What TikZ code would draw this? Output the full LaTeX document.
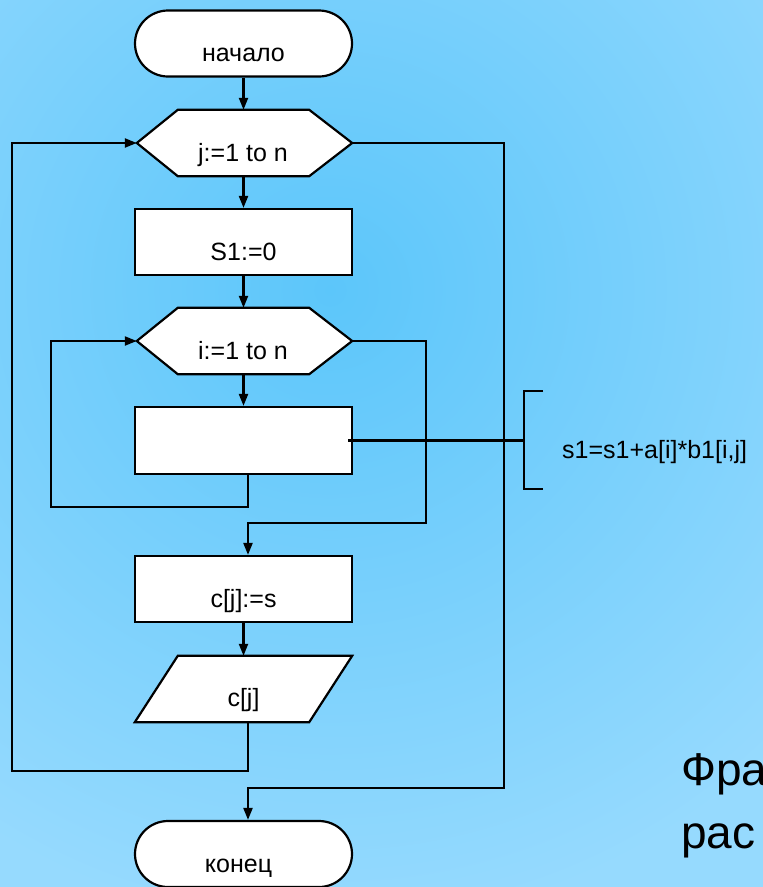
\documentclass[tikz,border=0pt]{standalone}
\usepackage{fontspec}
\setmainfont{Liberation Sans}
\usetikzlibrary{arrows.meta}
\definecolor{bgin}{RGB}{92,198,250}
\definecolor{bgout}{RGB}{150,218,254}
\pgfdeclareradialshading{bgshade}{\pgfpoint{0bp}{0bp}}{color(0bp)=(bgin); color(25bp)=(bgout); color(50bp)=(bgout)}
\tikzset{
 line/.style={line width=2.2pt, draw=black},
 arr/.style={line, -{Triangle[length=12pt,width=9pt]}},
 term/.style={line, fill=white, rectangle, rounded corners=33pt, minimum width=217pt, minimum height=66pt, inner sep=0pt},
 proc/.style={line, fill=white, rectangle, minimum width=217pt, minimum height=66pt, inner sep=0pt},
 frame/.style={rectangle, minimum width=215pt, minimum height=66pt, inner sep=0pt},
 shapefill/.style={line, fill=white, line join=miter},
 txt/.style={font=\fontsize{25}{30}\selectfont, anchor=base, inner sep=0pt},
 bigtxt/.style={font=\fontsize{46}{55}\selectfont, anchor=base west, inner sep=0pt},
}
\begin{document}
\begin{tikzpicture}[x=1pt,y=-1pt]
\path[use as bounding box] (0,0) rectangle (763,887);
\clip (0,0) rectangle (763,887);
% background
\fill[bgout] (0,0) rectangle (763,887);
\shade[shading=bgshade] (330,290) circle (640pt);

% shapes
\node[term] (start) at (243.5,43.5) {};
\node[frame] (hj) at (244.5,143) {};
\draw[shapefill] ([xshift=41pt]hj.north west) -- ([xshift=-43pt]hj.north east) -- (hj.east) -- ([xshift=-43pt]hj.south east) -- ([xshift=41pt]hj.south west) -- (hj.west) -- cycle;
\node[proc] (s1) at (243.5,242) {};
\node[frame] (hi) at (244.5,341) {};
\draw[shapefill] ([xshift=41pt]hi.north west) -- ([xshift=-43pt]hi.north east) -- (hi.east) -- ([xshift=-43pt]hi.south east) -- ([xshift=41pt]hi.south west) -- (hi.west) -- cycle;
\node[proc, minimum height=67pt] (body) at (243.5,440.5) {};
\node[proc] (cbox) at (243.5,589) {};
\node[frame, minimum width=217pt] (para) at (243.5,689) {};
\draw[shapefill] ([xshift=43pt]para.north west) -- (para.north east) -- ([xshift=-43pt]para.south east) -- (para.south west) -- cycle;
\node[term] (end) at (243.5,854) {};

% texts
\node[txt] (tstart) at (243.5,61.5) {начало};
\node[txt] (thj) at (243,161) {j:=1 to n};
\node[txt] (ts1) at (243.5,260) {S1:=0};
\node[txt] (thi) at (243,359) {i:=1 to n};
\node[txt] (tcbox) at (243.5,607) {c[j]:=s};
\node[txt] (tpara) at (243.5,706) {c[j]};
\node[txt] (tend) at (238.5,872) {конец};
\node[txt, anchor=base west] (note) at (562,458) {s1=s1+a[i]*b1[i,j]};
\node[bigtxt] (big1) at (681,785) {Фра};
\node[bigtxt] (big2) at (681,848) {рас};

% coordinates for connector bends
\coordinate (iloop) at (51,507);
\coordinate (iexit) at (426,523);
\coordinate (jloop) at (12,771);
\coordinate (jexit) at (504,788);
\coordinate (brtop) at (543,391);
\coordinate (brbot) at (543,489);
\coordinate (brmid) at (524,440.5);

% connectors
\draw[arr] (start.south) -- (hj.north -| start.south);
\draw[arr] (hj.south -| s1.north) -- (s1.north);
\draw[arr] (s1.south) -- (hi.north -| s1.south);
\draw[arr] (hi.south -| body.north) -- (body.north);
\draw[arr] ([xshift=4.5pt]body.south) |- (iloop) |- (hi.west);
\draw[arr] (hi.east) -| (iexit) -| ([xshift=4.5pt]cbox.north);
\draw[arr] (cbox.south) -- (para.north);
\draw[arr] ([xshift=4.5pt]para.south) |- (jloop) |- (hj.west);
\draw[arr] (hj.east) -| (jexit) -| ([xshift=4.5pt]end.north);

% annotation bracket
\draw[line] ([xshift=-5pt]body.east) -- (brmid);
\draw[line] (brtop) -| (brmid) |- (brbot);
\end{tikzpicture}
\end{document}
